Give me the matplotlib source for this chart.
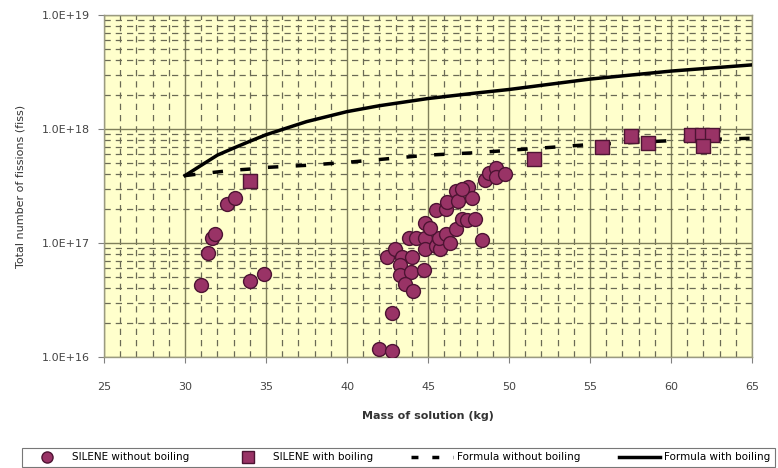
import numpy as np
import matplotlib
matplotlib.use('Agg')
from matplotlib import pyplot as plt
from matplotlib.lines import Line2D
from matplotlib.ticker import FixedLocator, LogLocator, FuncFormatter


# SILENE experiments without boiling (mass kg, fissions)
no_boil_mass = [31.0, 31.4, 31.65, 31.85, 32.6, 33.1, 34.0, 34.9,
                42.0, 42.75, 42.8, 42.45, 42.95, 43.4, 44.0, 43.25, 43.25,
                43.95, 43.55, 44.1, 44.75, 43.8, 44.25, 44.8, 44.8, 45.5,
                45.75, 45.65, 46.1, 46.35, 46.7, 47.1, 47.4, 47.9, 48.3,
                44.8, 45.1, 45.5, 46.1, 46.15, 46.75, 46.85, 47.45, 47.7,
                48.5, 48.75, 49.2, 49.2, 49.75, 47.1]
no_boil_fiss = [4.3e16, 8.1e16, 1.11e17, 1.19e17, 2.2e17, 2.5e17, 4.6e16, 5.3e16,
                1.17e16, 1.13e16, 2.45e16, 7.6e16, 8.9e16, 7.6e16, 7.6e16, 6.4e16, 5.2e16,
                5.6e16, 4.4e16, 3.8e16, 5.75e16, 1.11e17, 1.11e17, 1.11e17, 8.9e16, 9.4e16,
                8.8e16, 1.11e17, 1.19e17, 9.9e16, 1.32e17, 1.61e17, 1.58e17, 1.61e17, 1.07e17,
                1.51e17, 1.34e17, 1.93e17, 1.97e17, 2.28e17, 2.85e17, 2.33e17, 3.1e17, 2.5e17,
                3.6e17, 4.1e17, 4.56e17, 3.8e17, 4.05e17, 3.0e17]

# SILENE experiments with boiling
boil_mass = [34.0, 51.55, 55.75, 57.55, 58.6, 61.2, 61.9, 62.55, 61.95]
boil_fiss = [3.5e17, 5.5e17, 7.0e17, 8.7e17, 7.5e17, 8.8e17, 8.8e17, 8.8e17, 7.05e17]

# formula curves
formula_mass = [30, 31, 32, 33, 34, 35, 37.5, 40, 42, 45, 48, 50, 55, 60, 65]
formula_no_boil = [3.9e17, 4.05e17, 4.2e17, 4.35e17, 4.45e17, 4.6e17, 4.8e17, 5.1e17,
                   5.4e17, 5.9e17, 6.2e17, 6.5e17, 7.3e17, 7.9e17, 8.3e17]
formula_boil = [3.9e17, 4.8e17, 5.9e17, 6.8e17, 7.8e17, 8.9e17, 1.16e18, 1.42e18,
                1.6e18, 1.85e18, 2.07e18, 2.22e18, 2.74e18, 3.22e18, 3.65e18]

x_ticks = [25, 30, 35, 40, 45, 50, 55, 60, 65]
y_ticks = [1e16, 1e17, 1e18, 1e19]

plum = '#993366'
plum_edge = '#4d1433'


def sci_fmt(v, pos):
    return '%.1fE+%02d' % (1.0, int(round(np.log10(v))))


def main():
    fig = plt.figure(figsize=(7.78, 4.68), dpi=100)
    ax = fig.add_axes([0.1337, 0.2372, 0.833, 0.7308])
    ax.set_facecolor('#ffffcc')

    ax.plot(formula_mass, formula_no_boil, color='black', lw=2.5,
            linestyle=(0, (3, 5)), zorder=3)
    ax.plot(formula_mass, formula_boil, color='black', lw=2.5, zorder=3)
    ax.scatter(no_boil_mass, no_boil_fiss, s=100, marker='o', c=plum,
               edgecolors=plum_edge, linewidths=1, zorder=5)
    ax.scatter(boil_mass, boil_fiss, s=110, marker='s', c=plum,
               edgecolors=plum_edge, linewidths=1, zorder=5)

    ax.set_yscale('log')
    ax.set_xlim(25, 65)
    ax.set_ylim(1e16, 1e19)
    ax.xaxis.set_major_locator(FixedLocator(x_ticks))
    ax.xaxis.set_minor_locator(FixedLocator(np.arange(25, 66, 1)))
    ax.yaxis.set_major_locator(FixedLocator(y_ticks))
    ax.yaxis.set_minor_locator(LogLocator(base=10, subs=np.arange(2, 10)))
    ax.yaxis.set_major_formatter(FuncFormatter(sci_fmt))
    ax.yaxis.set_minor_formatter(FuncFormatter(lambda v, p: ''))

    ax.grid(which='major', color='#7f7f5a', lw=1.0, linestyle='-')
    ax.grid(which='minor', color='#6b6b55', lw=0.9, linestyle=(0, (5, 4)))
    ax.set_axisbelow(True)

    for s in ax.spines.values():
        s.set_color('#9a9a80')
        s.set_linewidth(1.0)
    ax.tick_params(which='major', length=4, color='#808080', labelsize=8,
                   labelcolor='#444444', pad=6)
    ax.tick_params(axis='x', which='major', pad=14)
    ax.tick_params(which='minor', length=0)

    ax.set_xlabel('Mass of solution (kg)', fontsize=8, fontweight='bold',
                  color='#333333', labelpad=14)
    ax.set_ylabel('Total number of fissions (fiss)', fontsize=8,
                  color='#333333', labelpad=12)

    handles = [
        Line2D([], [], marker='o', ls='', markersize=8, markerfacecolor=plum,
               markeredgecolor=plum_edge),
        Line2D([], [], marker='s', ls='', markersize=8, markerfacecolor=plum,
               markeredgecolor=plum_edge),
        Line2D([], [], color='black', lw=2.5, linestyle=(0, (2, 4))),
        Line2D([], [], color='black', lw=2.5),
    ]
    labels = ['SILENE without boiling', 'SILENE with boiling',
              'Formula without boiling', 'Formula with boiling']
    leg = fig.legend(handles, labels, loc='lower left', ncol=4,
                     bbox_to_anchor=(0.028, 0.003, 0.968, 0.057), mode='expand',
                     fancybox=False, edgecolor='#555555', fontsize=7.5,
                     handlelength=4, borderaxespad=0, handletextpad=0.4,
                     columnspacing=1.0, borderpad=0.4)
    leg.get_frame().set_linewidth(0.8)

    fig.savefig('out.png', dpi=100)


if __name__ == '__main__':
    main()
